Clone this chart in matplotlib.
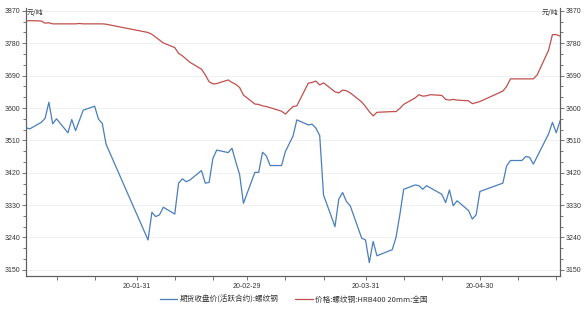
import matplotlib
matplotlib.use("Agg")
import matplotlib.pyplot as plt
import matplotlib.dates as mdates
from matplotlib.ticker import MultipleLocator, FixedLocator
import pandas as pd

plt.rcParams['font.family'] = ['Noto Sans CJK SC', 'DejaVu Sans']

# ---- data ----
fut_dates = ["2020-01-02", "2020-01-03", "2020-01-06", "2020-01-07", "2020-01-08", "2020-01-09",
             "2020-01-10", "2020-01-13", "2020-01-14", "2020-01-15", "2020-01-17", "2020-01-20",
             "2020-01-21", "2020-01-22", "2020-01-23",
             "2020-02-03", "2020-02-04", "2020-02-05", "2020-02-06", "2020-02-07", "2020-02-10",
             "2020-02-11", "2020-02-12", "2020-02-13", "2020-02-14", "2020-02-17", "2020-02-18",
             "2020-02-19", "2020-02-20", "2020-02-21", "2020-02-24", "2020-02-25", "2020-02-26",
             "2020-02-27", "2020-02-28",
             "2020-03-02", "2020-03-03", "2020-03-04", "2020-03-05", "2020-03-06", "2020-03-09",
             "2020-03-10", "2020-03-12", "2020-03-13", "2020-03-16", "2020-03-17", "2020-03-18",
             "2020-03-19", "2020-03-20", "2020-03-23", "2020-03-24", "2020-03-25", "2020-03-26",
             "2020-03-27", "2020-03-30", "2020-03-31",
             "2020-04-01", "2020-04-02", "2020-04-03", "2020-04-07", "2020-04-08", "2020-04-09",
             "2020-04-10", "2020-04-13", "2020-04-14", "2020-04-15", "2020-04-16", "2020-04-20",
             "2020-04-21", "2020-04-22", "2020-04-23", "2020-04-24", "2020-04-27", "2020-04-28",
             "2020-04-29", "2020-04-30",
             "2020-05-06", "2020-05-07", "2020-05-08", "2020-05-11", "2020-05-12", "2020-05-13",
             "2020-05-14", "2020-05-18", "2020-05-19", "2020-05-20", "2020-05-21"]
fut_values = [3545, 3542, 3560, 3571, 3616, 3556,
              3570, 3531, 3568, 3537, 3594, 3605,
              3569, 3557, 3499,
              3233, 3310, 3298, 3303, 3324, 3305,
              3391, 3403, 3395, 3400, 3426, 3391,
              3393, 3460, 3483, 3476, 3488, 3450,
              3415, 3335,
              3421, 3421, 3477, 3467, 3440, 3440,
              3479, 3522, 3567, 3553, 3555, 3544,
              3523, 3358, 3270, 3347, 3365, 3340,
              3328, 3238, 3233,
              3170, 3229, 3189, 3206, 3240, 3303,
              3374, 3386, 3384, 3374, 3384, 3360,
              3337, 3372, 3328, 3342, 3315, 3291,
              3303, 3368,
              3391, 3439, 3454, 3454, 3465, 3463,
              3444, 3528, 3560, 3531, 3564]

spot_dates = ["2020-01-02", "2020-01-03", "2020-01-06", "2020-01-07", "2020-01-08", "2020-01-09",
              "2020-01-10", "2020-01-13", "2020-01-14", "2020-01-15", "2020-01-16", "2020-01-17",
              "2020-01-20", "2020-01-21", "2020-01-22", "2020-01-23",
              "2020-02-03", "2020-02-04", "2020-02-05", "2020-02-06", "2020-02-07", "2020-02-10",
              "2020-02-11", "2020-02-12", "2020-02-13", "2020-02-14", "2020-02-17", "2020-02-18",
              "2020-02-19", "2020-02-20", "2020-02-21", "2020-02-24", "2020-02-25", "2020-02-26",
              "2020-02-27", "2020-02-28",
              "2020-03-02", "2020-03-03", "2020-03-04", "2020-03-05", "2020-03-06", "2020-03-09",
              "2020-03-10", "2020-03-11", "2020-03-12", "2020-03-13", "2020-03-16", "2020-03-17",
              "2020-03-18", "2020-03-19", "2020-03-20", "2020-03-23", "2020-03-24", "2020-03-25",
              "2020-03-26", "2020-03-27", "2020-03-30", "2020-03-31",
              "2020-04-01", "2020-04-02", "2020-04-03", "2020-04-07", "2020-04-08", "2020-04-09",
              "2020-04-10", "2020-04-13", "2020-04-14", "2020-04-15", "2020-04-16", "2020-04-17",
              "2020-04-20", "2020-04-21", "2020-04-22", "2020-04-23", "2020-04-24", "2020-04-27",
              "2020-04-28", "2020-04-29", "2020-04-30",
              "2020-05-06", "2020-05-07", "2020-05-08", "2020-05-11", "2020-05-12", "2020-05-13",
              "2020-05-14", "2020-05-15", "2020-05-18", "2020-05-19", "2020-05-20", "2020-05-21"]
spot_values = [3842, 3843, 3842, 3836, 3837, 3834,
               3834, 3834, 3834, 3834, 3835, 3834,
               3834, 3834, 3834, 3833,
               3810, 3805, 3797, 3789, 3781, 3768,
               3752, 3745, 3736, 3727, 3708, 3692,
               3673, 3667, 3668, 3678, 3671, 3666,
               3657, 3636,
               3611, 3610, 3606, 3604, 3601, 3591,
               3583, 3594, 3604, 3606, 3669, 3671,
               3675, 3664, 3670, 3645, 3642, 3650,
               3648, 3642, 3617, 3604,
               3590, 3578, 3588, 3590, 3590, 3599,
               3610, 3628, 3637, 3633, 3634, 3637,
               3635, 3624, 3622, 3624, 3622, 3620,
               3612, 3615, 3618,
               3647, 3660, 3681, 3681, 3681, 3681,
               3681, 3692, 3761, 3804, 3804, 3800]

fut_label = "期货收盘价(活跃合约):螺纹钢"
spot_label = "价格:螺纹钢:HRB400 20mm:全国"
unit_label = "元/吨"
major_ticks = ["2020-01-31", "2020-02-29", "2020-03-31", "2020-04-30"]

# ---- plot ----
fig = plt.figure(figsize=(5.84, 3.09), dpi=100)
ax = fig.add_axes([0.0445, 0.107, 0.9145, 0.867])
ax2 = ax.twinx()

blue = "#4a7ebb"
red = "#c0504d"
ax.plot(pd.to_datetime(fut_dates), fut_values, color=blue, lw=0.9, label=fut_label)
ax2.plot(pd.to_datetime(spot_dates), spot_values, color=red, lw=0.9, label=spot_label)

ymin, ymax = 3133, 3878
for a in (ax, ax2):
    a.set_ylim(ymin, ymax)
    a.yaxis.set_major_locator(MultipleLocator(90))
    a.yaxis.set_minor_locator(MultipleLocator(30))
    a.spines['top'].set_visible(False)
    for s in a.spines.values():
        s.set_color("#606060")
        s.set_linewidth(0.8)

ax.set_xlim(pd.Timestamp("2020-01-02"), pd.Timestamp("2020-05-21"))
ax.xaxis.set_major_locator(FixedLocator(mdates.date2num(pd.to_datetime(major_ticks))))
ax.xaxis.set_major_formatter(mdates.DateFormatter("%y-%m-%d"))
ax.xaxis.set_minor_locator(mdates.DayLocator(bymonthday=[10, 20]))

ax.grid(axis='y', which='major', color="#eeeeee", lw=0.6)
ax.set_axisbelow(True)

ax.tick_params(axis='y', which='major', length=3, width=0.6, colors="#606060",
               labelcolor="#333333", labelsize=5, pad=1)
ax.tick_params(axis='y', which='minor', length=2, width=0.6, colors="#606060")
ax2.tick_params(axis='y', which='major', length=3, width=0.6, colors="#606060",
                labelcolor="#333333", labelsize=5, pad=1)
ax2.tick_params(axis='y', which='minor', length=2, width=0.6, colors="#606060")
ax.tick_params(axis='x', which='both', length=3, width=0.6, colors="#606060",
               labelcolor="#333333", labelsize=5, pad=2)

for lab in ax.get_yticklabels() + ax2.get_yticklabels() + ax.get_xticklabels():
    lab.set_family(['Liberation Sans', 'DejaVu Sans'])

ax.text(0.002, 0.995, unit_label, transform=ax.transAxes, ha='left', va='top',
        fontsize=5, color="#333333")
ax2.text(0.997, 0.995, unit_label, transform=ax2.transAxes, ha='right', va='top',
         fontsize=5, color="#333333")

h1, l1 = ax.get_legend_handles_labels()
h2, l2 = ax2.get_legend_handles_labels()
fig.legend(h1 + h2, l1 + l2, loc='center', bbox_to_anchor=(0.503, 0.03), ncol=2,
           frameon=False, fontsize=5.5, handlelength=2.3, handletextpad=0.3,
           columnspacing=2.2, labelcolor="#333333")

fig.savefig("out.png", dpi=100)
